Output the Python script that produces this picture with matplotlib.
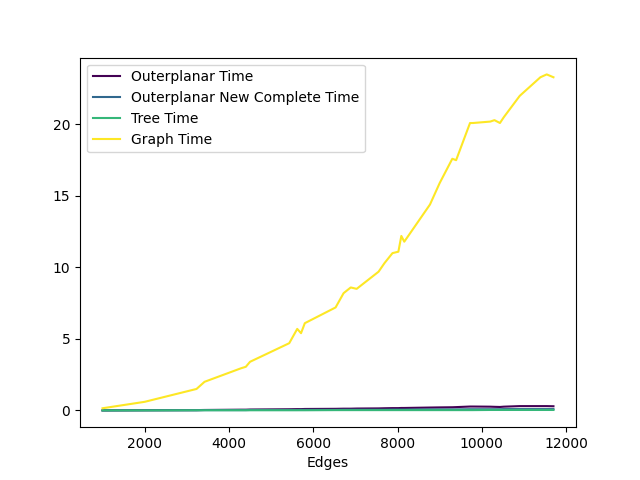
import matplotlib
matplotlib.use("Agg")
import matplotlib.pyplot as plt

edges = [1000, 2000, 3230, 3420, 4290, 4400, 4500, 5430, 5620, 5710, 5800, 6530, 6720,
         6890, 7030, 7550, 7690, 7880, 8020, 8090, 8160, 8770, 9000, 9300, 9390, 9720,
         9790, 10200, 10300, 10430, 10520, 10900, 11390, 11540, 11700]
graph_time = [0.15, 0.6, 1.5, 2.0, 2.95, 3.05, 3.4, 4.7, 5.7, 5.4, 6.1, 7.2, 8.2,
              8.6, 8.5, 9.7, 10.3, 11.0, 11.1, 12.2, 11.8, 14.4, 15.9, 17.6, 17.5, 20.1,
              20.1, 20.2, 20.3, 20.1, 20.5, 22.0, 23.3, 23.5, 23.3]
outer_time = [0.0, 0.01, 0.02, 0.03, 0.05, 0.05, 0.06, 0.08, 0.09, 0.09, 0.1, 0.11, 0.12,
              0.12, 0.13, 0.14, 0.15, 0.16, 0.16, 0.17, 0.17, 0.2, 0.21, 0.22, 0.23, 0.27,
              0.27, 0.26, 0.25, 0.24, 0.26, 0.3, 0.3, 0.3, 0.29]
outer_new_time = [0.0, 0.01, 0.01, 0.02, 0.02, 0.02, 0.03, 0.03, 0.03, 0.04, 0.04, 0.04, 0.05,
                  0.05, 0.05, 0.05, 0.05, 0.06, 0.06, 0.06, 0.06, 0.07, 0.07, 0.07, 0.07, 0.08,
                  0.08, 0.08, 0.08, 0.08, 0.09, 0.09, 0.09, 0.09, 0.09]
tree_time = [0.0, 0.0, 0.01, 0.01, 0.01, 0.01, 0.01, 0.01, 0.01, 0.01, 0.01, 0.02, 0.02,
             0.02, 0.02, 0.02, 0.02, 0.02, 0.02, 0.02, 0.02, 0.02, 0.02, 0.02, 0.02, 0.02,
             0.02, 0.03, 0.03, 0.03, 0.03, 0.03, 0.03, 0.03, 0.03]

fig, ax = plt.subplots(figsize=(6.4, 4.8), dpi=100)
ax.plot(edges, outer_time, color="#440154", label="Outerplanar Time")
ax.plot(edges, outer_new_time, color="#31688e", label="Outerplanar New Complete Time")
ax.plot(edges, tree_time, color="#35b779", label="Tree Time")
ax.plot(edges, graph_time, color="#fde725", label="Graph Time")
ax.set_xlabel("Edges")
ax.legend(loc="upper left")
fig.savefig("out.png")
